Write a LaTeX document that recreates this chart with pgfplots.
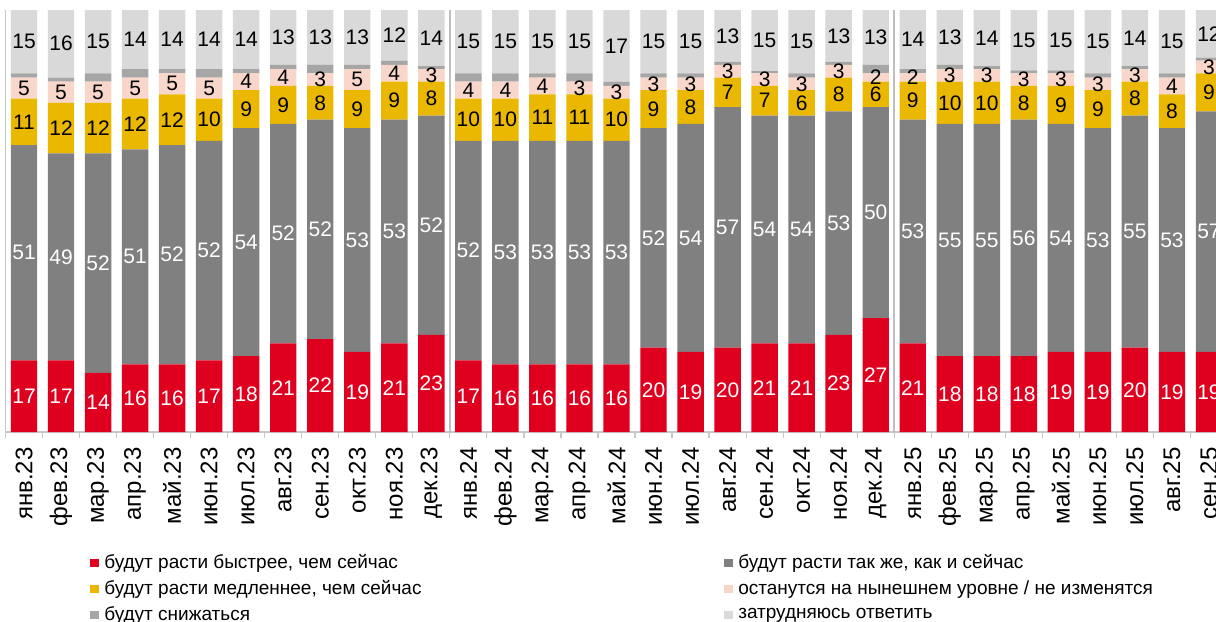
\documentclass[border=0pt]{standalone}
\usepackage{fontspec}
\setmainfont{Liberation Sans}
\usepackage{pgfplots}
\usepackage{pgfplotstable}
\pgfplotsset{compat=1.18}

\definecolor{cRed}{HTML}{DF0020}
\definecolor{cSame}{HTML}{808080}
\definecolor{cSlow}{HTML}{EAB800}
\definecolor{cKeep}{HTML}{F8D6C9}
\definecolor{cDown}{HTML}{A6A6A6}
\definecolor{cHard}{HTML}{D9D9D9}

% x r=faster s=same sl=slower u=unchanged d=decrease t=hard to say (tl = printed label)
\pgfplotstableread{
x  r  s  sl u  d   t    tl
0  17 51 11 5  1   15   15
1  17 49 12 5  1   16   16
2  14 52 12 5  2   15   15
3  16 51 12 5  2   14   14
4  16 52 12 5  1   14   14
5  17 52 10 5  2   14   14
6  18 54 9  4  1   14   14
7  21 52 9  4  1   13   13
8  22 52 8  3  2   13   13
9  19 53 9  5  1   13   13
10 21 53 9  4  1   12   12
11 23 52 8  3  0.7 13.3 14
12 17 52 10 4  2   15   15
13 16 53 10 4  2   15   15
14 16 53 11 4  1   15   15
15 16 53 11 3  2   15   15
16 16 53 10 3  1   17   17
17 20 52 9  3  1   15   15
18 19 54 8  3  1   15   15
19 20 57 7  3  0.7 12.3 13
20 21 54 7  3  0.5 14.5 15
21 21 54 6  3  1   15   15
22 23 53 8  3  0.7 12.3 13
23 27 50 6  2  2   13   13
24 21 53 9  2  1   14   14
25 18 55 10 3  1   13   13
26 18 55 10 3  0.7 13.3 14
27 18 56 8  3  0.7 14.3 15
28 19 54 9  3  0.7 14.3 15
29 19 53 9  3  1   15   15
30 20 55 8  3  0.7 13.3 14
31 19 53 8  4  1   15   15
32 19 57 9  3  0.7 11.3 12
}\survey

\begin{document}
\begin{tikzpicture}
\begin{axis}[
  x=18.515pt, y=2.11pt,
  xmin=-0.5, xmax=32.5, ymin=0, ymax=100,
  ybar stacked, bar width=13.2pt,
  axis lines*=left,
  axis line style={draw=black!22, line width=0.6pt, -},
  ytick=\empty,
  xtick={0,...,32},
  xticklabels={янв.23,фев.23,мар.23,апр.23,май.23,июн.23,июл.23,авг.23,сен.23,окт.23,ноя.23,дек.23,
    янв.24,фев.24,мар.24,апр.24,май.24,июн.24,июл.24,авг.24,сен.24,окт.24,ноя.24,дек.24,
    янв.25,фев.25,мар.25,апр.25,май.25,июн.25,июл.25,авг.25,сен.25},
  xticklabel style={rotate=90, anchor=east, inner sep=0pt, font=\fontsize{12}{14}\selectfont},
  xticklabel shift=7.5pt,
  major tick length=0pt,
  minor xtick={-0.5,0.5,...,32.5},
  minor tick length=3pt,
  tick align=outside,
  minor tick style={draw=black!22, line width=0.6pt},
  extra x ticks={11.5,23.5},
  extra x tick labels={},
  extra x tick style={grid=major, major grid style={draw=black!25, line width=1pt}},
  /pgf/number format/assume math mode=true,
  every node near coord/.append style={anchor=center, inner sep=1pt, font=\fontsize{10.5}{12}\selectfont},
  legend columns=2,
  legend cell align=left,
  legend style={at={(axis cs:1.78,-28.45)}, anchor=north west,
    draw=none, fill=none, inner sep=0pt,
    font=\fontsize{9.5}{11}\selectfont, row sep=2.5pt,
    nodes={inner sep=1pt}},
  legend image code/.code={\fill[#1] (0pt,-2pt) rectangle (4.5pt,2pt); \path (6pt,0pt);},
]
\addplot[fill=cRed, draw=none, nodes near coords, nodes near coords style={text=white}]
  table[x=x, y=r]{\survey};
\addlegendentry{\makebox[309pt][l]{будут расти быстрее, чем сейчас}}
\addplot[fill=cSame, draw=none, nodes near coords, nodes near coords style={text=white}]
  table[x=x, y=s]{\survey};
\addlegendentry{будут расти так же, как и сейчас}
\addplot[fill=cSlow, draw=none, nodes near coords, nodes near coords style={text=black}]
  table[x=x, y=sl]{\survey};
\addlegendentry{\makebox[309pt][l]{будут расти медленнее, чем сейчас}}
\addplot[fill=cKeep, draw=none, nodes near coords, nodes near coords style={text=black}]
  table[x=x, y=u]{\survey};
\addlegendentry{останутся на нынешнем уровне / не изменятся}
\addplot[fill=cDown, draw=none]
  table[x=x, y=d]{\survey};
\addlegendentry{\makebox[309pt][l]{будут снижаться}}
\addplot[fill=cHard, draw=none, nodes near coords, point meta=explicit,
  nodes near coords style={text=black}]
  table[x=x, y=t, meta=tl]{\survey};
\addlegendentry{затрудняюсь ответить}
\coordinate (bbA) at (axis cs:-0.6485,-44.79);
\coordinate (bbB) at (axis cs:32.19,102.37);
\end{axis}
\pgfresetboundingbox
\path[use as bounding box] (bbA) rectangle (bbB);
\end{tikzpicture}
\end{document}
